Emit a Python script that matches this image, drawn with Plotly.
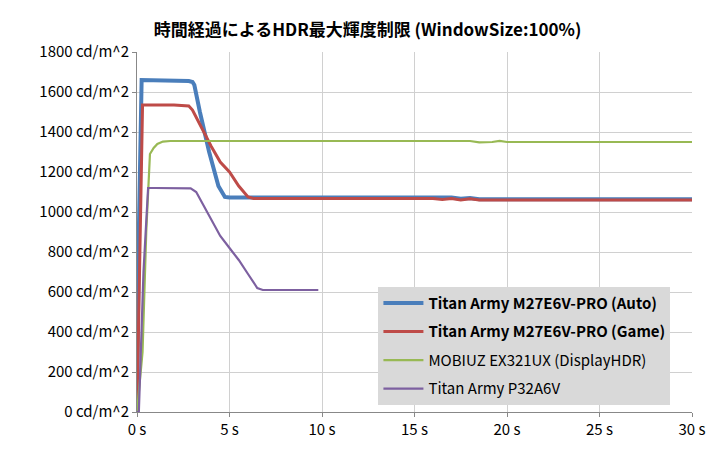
import plotly.graph_objects as go

auto_t = [0, 0.1, 0.25, 0.5, 1, 2, 2.8, 3.0, 3.1, 3.4, 3.9, 4.4, 4.75, 5, 6, 10, 16, 16.5, 17, 17.5, 18, 18.5, 30]
auto_v = [0, 900, 1660, 1660, 1660, 1655, 1655, 1650, 1635, 1500, 1300, 1130, 1075, 1072, 1072, 1072, 1072, 1068, 1072, 1066, 1070, 1064, 1064]
game_t = [0, 0.15, 0.3, 1, 2, 2.8, 3.0, 3.5, 4, 4.5, 5, 5.5, 6, 6.3, 10, 16, 16.5, 17, 17.5, 18, 18.5, 30]
game_v = [0, 800, 1535, 1535, 1535, 1530, 1510, 1420, 1330, 1250, 1200, 1130, 1075, 1068, 1068, 1068, 1062, 1068, 1060, 1066, 1060, 1060]
mob_t = [0, 0.3, 0.5, 0.7, 0.9, 1.1, 1.4, 1.8, 5, 10, 15, 18, 18.5, 19.2, 19.6, 20, 30]
mob_v = [0, 300, 900, 1290, 1320, 1340, 1352, 1355, 1355, 1355, 1355, 1355, 1348, 1350, 1356, 1350, 1350]
p32_t = [0, 0.1, 0.35, 0.6, 1, 2, 2.9, 3.2, 3.5, 4, 4.5, 5, 5.5, 6, 6.5, 6.8, 8, 9.8]
p32_v = [0, 0, 700, 1120, 1120, 1120, 1118, 1100, 1050, 960, 880, 820, 760, 690, 620, 610, 610, 610]

names = ["<b>Titan Army M27E6V-PRO (Auto)</b>", "<b>Titan Army M27E6V-PRO (Game)</b>",
         "MOBIUZ EX321UX (DisplayHDR)", "Titan Army P32A6V"]
colors = ["#4a7ebb", "#be4b48", "#98b954", "#7d60a0"]
widths = [4, 3, 2.2, 2.2]

fig = go.Figure()
for i, ((t, v), n, c, w) in enumerate(zip([(auto_t, auto_v), (game_t, game_v), (mob_t, mob_v), (p32_t, p32_v)], names, colors, widths)):
    fig.add_trace(go.Scatter(x=t, y=v, mode="lines", name=n, legendgroup=f"g{i}", line=dict(color=c, width=w)))

yt = list(range(0, 1801, 200))
xt = list(range(0, 31, 5))
fig.update_layout(
    width=719, height=454, paper_bgcolor="white", plot_bgcolor="white",
    margin=dict(l=129, r=35, t=44, b=50),
    font=dict(family="Noto Sans CJK JP, Noto Sans", size=15, color="black"),
    title=dict(text="<b>時間経過によるHDR最大輝度制限 (WindowSize:100%)</b>", x=0.5, xanchor="center", y=0.965, font=dict(size=17)),
    xaxis=dict(range=[0, 30], tickvals=xt, ticktext=[f"{v} s" for v in xt], showgrid=True, gridcolor="#d0d0d0",
               showline=True, linecolor="#888", ticks="outside", ticklen=4, tickcolor="#888", zeroline=False),
    yaxis=dict(range=[0, 1800], tickvals=yt, ticktext=[f"{v} cd/m^2" for v in yt], showgrid=True, gridcolor="#d0d0d0",
               showline=True, linecolor="#888", ticks="outside", ticklen=4, tickcolor="#888", zeroline=False),
    legend=dict(x=0.435, y=0.02, xanchor="left", yanchor="bottom", bgcolor="#d9d9d9", font=dict(size=15),
                tracegroupgap=6, itemwidth=40),
)
fig.write_html("out.html")
